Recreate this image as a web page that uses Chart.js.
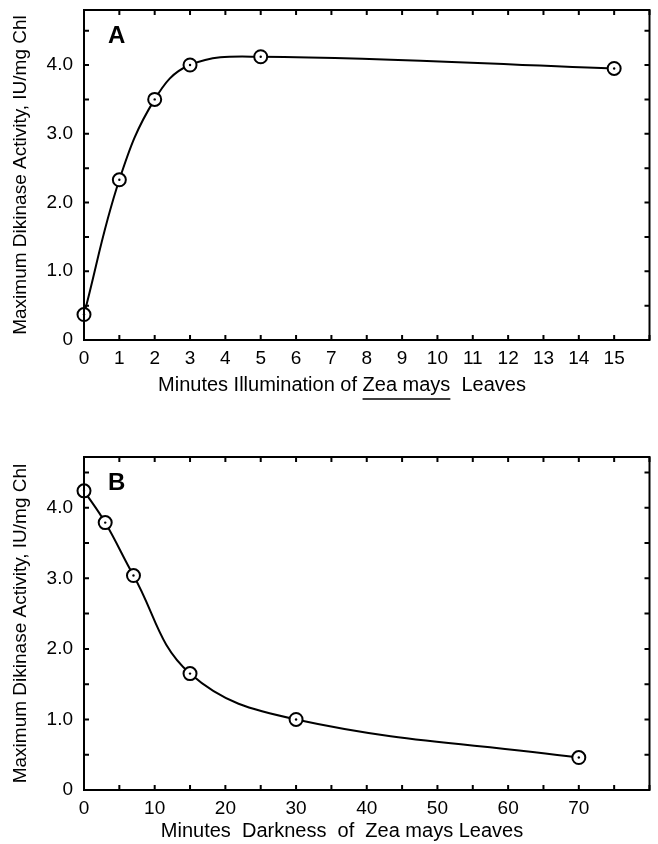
<!DOCTYPE html>
<html>
<head>
<meta charset="utf-8">
<script src="https://cdn.jsdelivr.net/npm/chart.js@4.4.1/dist/chart.umd.min.js"></script>
<style>
  body { margin: 0; background: #fff; }
  .panel { position: absolute; left: 0; width: 658px; }
</style>
</head>
<body>
<div class="panel" style="top:0;height:410px"><canvas id="chartA"></canvas></div>
<div class="panel" style="top:410px;height:434px"><canvas id="chartB"></canvas></div>
<script>
// panel A: minutes of illumination
var illumMinutes = [0, 1, 2, 3, 5, 15];
var illumActivity = [0.37, 2.33, 3.5, 4.0, 4.12, 3.95];
// panel B: minutes of darkness
var darkMinutes = [0, 3, 7, 15, 30, 70];
var darkActivity = [4.24, 3.79, 3.04, 1.65, 1.0, 0.46];
// tick labels
var yTickLabels = ['0', '1.0', '2.0', '3.0', '4.0'];
var illumTickMax = 15;
var darkTickMax = 70;

var FONT = '"Liberation Sans", Arial, sans-serif';

function toPoints(xs, ys) {
  var pts = [];
  for (var i = 0; i < xs.length; i++) pts.push({ x: xs[i], y: ys[i] });
  return pts;
}

// box around the plot with inward ticks, panel letter and x title
var framePlugin = {
  id: 'frame',
  afterDraw: function (chart, args, opts) {
    var c = chart.ctx, a = chart.chartArea;
    var xs = chart.scales.x, ys = chart.scales.y;
    var len = 5;
    c.save();
    c.strokeStyle = '#000';
    c.lineWidth = 2;
    c.strokeRect(a.left, a.top, a.right - a.left, a.bottom - a.top);
    c.beginPath();
    xs.ticks.forEach(function (t) {
      var px = xs.getPixelForValue(t.value);
      c.moveTo(px, a.bottom); c.lineTo(px, a.bottom - len);
      c.moveTo(px, a.top); c.lineTo(px, a.top + len);
    });
    ys.ticks.forEach(function (t) {
      var py = ys.getPixelForValue(t.value);
      c.moveTo(a.left, py); c.lineTo(a.left + len, py);
      c.moveTo(a.right, py); c.lineTo(a.right - len, py);
    });
    c.stroke();

    // panel letter
    c.fillStyle = '#000';
    c.font = 'bold 24px ' + FONT;
    c.textBaseline = 'alphabetic';
    c.fillText(opts.letter, a.left + 24, a.top + 33);

    // x title, with optional underlined part
    c.font = '20px ' + FONT;
    c.textBaseline = 'middle';
    var total = 0;
    opts.xTitle.forEach(function (p) { total += c.measureText(p[0]).width; });
    var x = opts.xTitleX - total / 2, y = a.bottom + opts.xTitleDy;
    opts.xTitle.forEach(function (p) {
      var w = c.measureText(p[0]).width;
      c.fillText(p[0], x, y);
      if (p[1]) {
        c.lineWidth = 1.5;
        c.beginPath();
        c.moveTo(x, y + 14); c.lineTo(x + w, y + 14);
        c.stroke();
      }
      x += w;
    });
    c.restore();
  }
};

function makeChart(id, xs, ys, xMax, xStep, xLabelEvery, xLabelMax, yMax, pad, xHeight, letter, xTitle, xTitleDy) {
  var pts = toPoints(xs, ys);
  return new Chart(document.getElementById(id), {
    type: 'scatter',
    data: {
      datasets: [
        {
          data: pts,
          order: 0,
          showLine: false,
          pointRadius: 1.2,
          pointBackgroundColor: '#000',
          pointBorderWidth: 0,
          clip: false
        },
        {
          data: pts,
          order: 1,
          showLine: true,
          tension: 0.4,
          borderColor: '#000',
          borderWidth: 2,
          pointRadius: 6.5,
          pointBorderWidth: 2,
          pointBorderColor: '#000',
          pointBackgroundColor: '#fff',
          clip: false
        }
      ]
    },
    options: {
      responsive: true,
      maintainAspectRatio: false,
      animation: false,
      layout: { padding: pad },
      plugins: {
        legend: { display: false },
        tooltip: { enabled: false },
        frame: { letter: letter, xTitle: xTitle, xTitleX: 342, xTitleDy: xTitleDy }
      },
      scales: {
        x: {
          type: 'linear',
          min: 0,
          max: xMax,
          grid: { display: false, drawTicks: false },
          border: { display: false },
          afterFit: function (s) { s.height = xHeight; s.paddingLeft = 0; s.paddingRight = 0; },
          ticks: {
            stepSize: xStep,
            autoSkip: false,
            maxRotation: 0,
            padding: 7,
            color: '#000',
            font: { family: FONT, size: 19 },
            callback: function (v) {
              return (v % xLabelEvery === 0 && v <= xLabelMax) ? String(v) : '';
            }
          }
        },
        y: {
          min: 0,
          max: yMax,
          grid: { display: false, drawTicks: false },
          border: { display: false },
          afterFit: function (s) { s.width = 84; s.paddingTop = 0; s.paddingBottom = 0; },
          title: {
            display: true,
            text: 'Maximum Dikinase Activity, IU/mg Chl',
            color: '#000',
            font: { family: FONT, size: 19 },
            padding: { top: 9, bottom: 0 }
          },
          ticks: {
            stepSize: 0.5,
            includeBounds: false,
            autoSkip: false,
            padding: 11,
            color: '#000',
            font: { family: FONT, size: 19 },
            callback: function (v) {
              return v % 1 === 0 ? yTickLabels[v] : '';
            }
          }
        }
      }
    },
    plugins: [framePlugin]
  });
}

makeChart('chartA', illumMinutes, illumActivity, 16, 1, 1, illumTickMax, 4.8,
  { top: 10, right: 4, left: 0, bottom: 0 }, 70, 'A',
  [['Minutes Illumination of ', false], ['Zea mays', true], ['  Leaves', false]], 45);

makeChart('chartB', darkMinutes, darkActivity, 80, 5, 10, darkTickMax, 4.72,
  { top: 47, right: 3, left: 0, bottom: 0 }, 54, 'B',
  [['Minutes  Darkness  of  Zea mays Leaves', false]], 41);
</script>
</body>
</html>
